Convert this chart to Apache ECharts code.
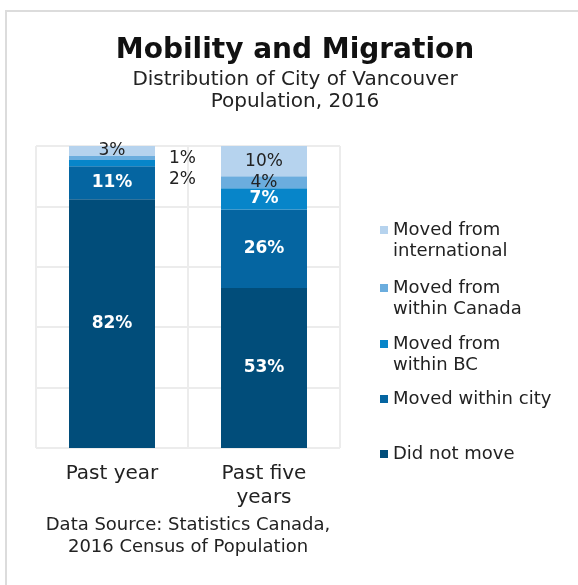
<!DOCTYPE html>
<html><head><meta charset="utf-8">
<script src="https://cdn.jsdelivr.net/npm/echarts@6/dist/echarts.min.js"></script>
<style>html,body{margin:0;padding:0;background:#fff}#c{width:578px;height:585px}</style>
</head><body><div id="c"></div>
<script>
const categories = ['Past year', 'Past five\nyears'];
const didNotMove = [82.4, 53];
const movedWithinCity = [10.9, 26];
const movedWithinBC = [2.1, 7];
const movedWithinCanada = [1.3, 4];
const movedInternational = [3.3, 10];
const seriesNames = ['Did not move', 'Moved within city', 'Moved from\nwithin BC', 'Moved from\nwithin Canada', 'Moved from\ninternational'];
const yTicks = [0, 20, 40, 60, 80, 100];

const FONT = 'DejaVu Sans';
const colors = ['#014d7a', '#0565a1', '#0785c9', '#6badde', '#b6d3ee'];
const labelColors = ['#fff', '#fff', '#fff', '#222', '#222'];
const values = [didNotMove, movedWithinCity, movedWithinBC, movedWithinCanada, movedInternational];

function buildData(si) {
  return values[si].map((v, i) => {
    const item = { value: v };
    if (i === 0 && si === 2) item.label = { position: 'right', distance: 14, offset: [0, 17], color: '#222', fontWeight: 'normal' };
    if (i === 0 && si === 3) item.label = { position: 'right', distance: 14, offset: [0, 1], color: '#222', fontWeight: 'normal' };
    return item;
  });
}

const series = seriesNames.map((name, si) => ({
  name: name,
  type: 'bar',
  stack: 'total',
  barWidth: 86,
  itemStyle: { color: colors[si] },
  label: {
    show: true,
    position: 'inside',
    formatter: p => Math.round(p.value) + '%',
    color: labelColors[si],
    fontFamily: FONT,
    fontSize: 17,
    fontWeight: si < 3 ? 'bold' : 'normal'
  },
  data: buildData(si)
}));

// target centre of first text line for each legend entry (top to bottom)
const legendLineY = [230, 288, 344, 399, 454];
const LH = 21;
const legends = seriesNames.map((name, si) => {
  const multi = name.indexOf('\n') >= 0;
  const y = legendLineY[4 - si];
  return {
    data: [name],
    left: 380,
    top: multi ? y - 1.5 * LH : y - LH / 2,
    padding: 0,
    itemWidth: 8,
    itemHeight: 8,
    itemGap: 0,
    icon: 'rect',
    selectedMode: false,
    formatter: n => (multi ? ' \n' : '') + n,
    textStyle: { fontFamily: FONT, fontSize: 18, color: '#222', lineHeight: LH }
  };
});

const chart = echarts.init(document.getElementById('c'), null, { renderer: 'canvas' });
chart.setOption({
  animation: false,
  backgroundColor: '#fff',
  title: [
    {
      text: 'Mobility and Migration',
      subtext: 'Distribution of City of Vancouver\nPopulation, 2016',
      left: 290, top: 32, textAlign: 'center',
      itemGap: 4,
      textStyle: { fontFamily: FONT, fontSize: 28, fontWeight: 'bold', color: '#111' },
      subtextStyle: { fontFamily: FONT, fontSize: 20, color: '#222', lineHeight: 22 }
    },
    {
      text: 'Data Source: Statistics Canada,\n2016 Census of Population',
      left: 183, top: 509, textAlign: 'center',
      textStyle: { fontFamily: FONT, fontSize: 18, fontWeight: 'normal', color: '#222', lineHeight: 22 }
    }
  ],
  legend: legends,
  grid: { left: 36, top: 146, width: 304, height: 302, containLabel: false },
  xAxis: {
    type: 'category',
    data: categories,
    axisLine: { show: false },
    axisTick: { show: false },
    splitLine: { show: true, lineStyle: { color: '#ececec', width: 2 } },
    axisLabel: { fontFamily: FONT, fontSize: 20, color: '#222', margin: 14, lineHeight: 24, interval: 0 }
  },
  yAxis: {
    type: 'value',
    min: yTicks[0], max: yTicks[yTicks.length - 1], interval: 20,
    axisLabel: { show: false },
    axisLine: { show: false },
    axisTick: { show: false },
    splitLine: { show: true, lineStyle: { color: '#ececec', width: 2 } }
  },
  graphic: [{
    type: 'polyline',
    shape: { points: [[6, 585], [6, 11], [578, 11]] },
    style: { stroke: '#dcdcdc', lineWidth: 2, fill: null },
    silent: true
  }],
  series: series
});
</script></body></html>
